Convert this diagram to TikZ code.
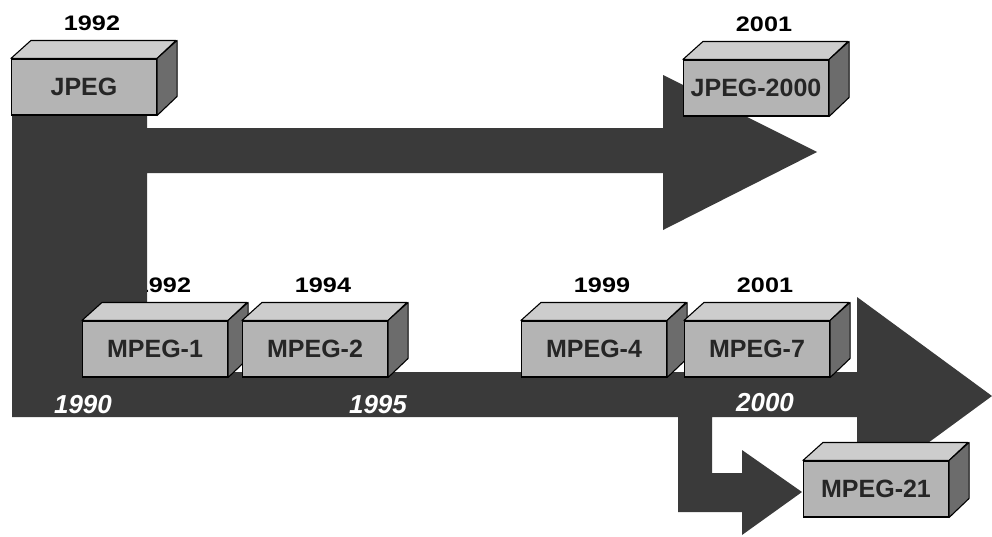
\documentclass[tikz,border=0pt]{standalone}
\usepackage{fontspec}
\setmainfont{Liberation Sans}
\usepackage{tikz}
\usetikzlibrary{calc,positioning}
\definecolor{seritKoyu}{HTML}{3A3A3A}
\definecolor{kutuOn}{HTML}{B4B4B4}
\definecolor{kutuUst}{HTML}{CDCDCD}
\definecolor{kutuYan}{HTML}{6C6C6C}
\definecolor{yaziKoyu}{HTML}{262626}

\begin{document}
\begin{tikzpicture}[x=1pt,y=-1pt,
  kutu/.style={draw=black,line width=1.1pt,fill=kutuOn,minimum width=145pt,minimum height=56pt,inner sep=0pt,text=yaziKoyu,font=\fontsize{25}{25}\selectfont\bfseries},
  yuz/.style={draw=black,line width=1.1pt,line join=round},
  yil/.style={font=\fontsize{21}{21}\selectfont\bfseries,xscale=1.2},
  donem/.style={text=white,font=\fontsize{26}{26}\selectfont\bfseries\itshape}]
\useasboundingbox (0,0) rectangle (992,536);
% yillar (kutularin ustunde)
\foreach \ad/\x/\y/\yr in {jpeg/84/87/1992, jpegk/756/88/2001, mpegA/155/349/1992, mpegB/315/349/1994, mpegD/594/349/1999, mpegG/757/349/2001}{
  \node[yil] (y-\ad) at (\x+8,\y-64) {\yr};
}
% zaman seridi
\fill[seritKoyu] (12,115) -- (147,115) -- (147,128) -- (663,128) -- (663,75) -- (817,152) -- (663,230) -- (663,173) -- (147,173)
  -- (147,372) -- (857,372) -- (857,297) -- (992,396) -- (857,495) -- (857,417) -- (712,417) -- (712,473) -- (742,473)
  -- (742,450) -- (802,492) -- (742,535) -- (742,512) -- (678,512) -- (678,417) -- (12,417) -- cycle;
% kutular
\foreach \ad/\x/\y/\yazi in {jpeg/84/87/JPEG, jpegk/756/88/JPEG-2000, mpegA/155/349/MPEG-1, mpegB/315/349/MPEG-2, mpegD/594/349/MPEG-4, mpegG/757/349/MPEG-7, mpegK/876/489/MPEG-21}{
  \node[kutu] (\ad) at (\x,\y) {\yazi};
  \draw[yuz,fill=kutuUst] (\ad.north west) -- ++(20,-18) -- ++(145,0) -- (\ad.north east) -- cycle;
  \draw[yuz,fill=kutuYan] (\ad.north east) -- ++(20,-18) -- ++(0,56) -- (\ad.south east) -- cycle;
}
\node[donem] (d1990) at (83,405) {1990};
\node[donem] (d1995) at (378,405) {1995};
\node[donem] (d2000) at (765,403) {2000};
\end{tikzpicture}
\end{document}
